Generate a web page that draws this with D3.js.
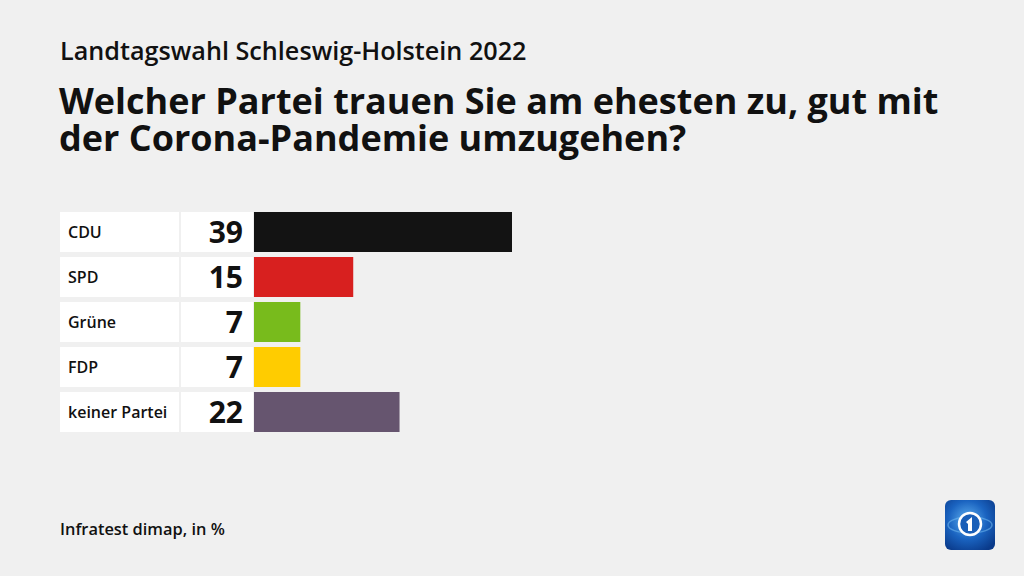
<!DOCTYPE html>
<html><head><meta charset="utf-8">
<script src="https://cdn.jsdelivr.net/npm/d3@7"></script>
<style>body{margin:0;background:#f0f0f0;} svg{display:block;font-family:"Open Sans",sans-serif;}</style>
</head><body>
<script>
const categories = ["CDU","SPD","Grüne","FDP","keiner Partei"];
const values = [39,15,7,7,22];
const colors = ["#131313","#d8201f","#78bb1c","#ffcc00","#66556f"];
const subtitle = "Landtagswahl Schleswig-Holstein 2022";
const titleLines = ["Welcher Partei trauen Sie am ehesten zu, gut mit","der Corona-Pandemie umzugehen?"];
const source = "Infratest dimap, in %";

const W=1024,H=576;
const svg=d3.select("body").append("svg").attr("width",W).attr("height",H);
svg.append("rect").attr("width",W).attr("height",H).attr("fill","#f0f0f0");

svg.append("text").attr("x",60).attr("y",60).attr("font-size",25.2).attr("font-weight",600).attr("fill","#111").text(subtitle);
const title=svg.append("text").attr("x",59).attr("y",114).attr("font-size",36).attr("font-weight",700).attr("fill","#111");
titleLines.forEach((t,i)=>title.append("tspan").attr("x",59).attr("dy",i?37:0).text(t));

const y=d3.scaleBand().domain(categories).range([212,432]).paddingInner(5/45).paddingOuter(0);
const x=d3.scaleLinear().domain([0,39]).range([254,512]);

const g=svg.append("g");
const rows=g.selectAll("g.row").data(categories).join("g");
rows.append("rect").attr("x",60).attr("y",d=>y(d)).attr("width",119).attr("height",y.bandwidth()).attr("fill","#fff");
rows.append("rect").attr("x",181).attr("y",d=>y(d)).attr("width",72).attr("height",y.bandwidth()).attr("fill","#fff");
rows.append("text").attr("x",68).attr("y",d=>y(d)+y.bandwidth()/2+6).attr("font-size",16).attr("font-weight",600).attr("fill","#111").text(d=>d);
rows.append("text").attr("x",243).attr("y",(d)=>y(d)+y.bandwidth()/2+11).attr("text-anchor","end").attr("font-size",30).attr("font-weight",700).attr("fill","#111").text((d,i)=>values[i]);
rows.append("rect").attr("x",x(0)).attr("y",d=>y(d)).attr("width",(d,i)=>x(values[i])-x(0)).attr("height",y.bandwidth()).attr("fill",(d,i)=>colors[i]);

svg.append("text").attr("x",60).attr("y",535).attr("font-size",16.4).attr("font-weight",600).attr("fill","#111").text(source);

// logo
const defs=svg.append("defs");
const rg=defs.append("radialGradient").attr("id","lg").attr("cx","45%").attr("cy","40%").attr("r","70%");
rg.append("stop").attr("offset","0%").attr("stop-color","#5fb0f0");
rg.append("stop").attr("offset","55%").attr("stop-color","#1a63c0");
rg.append("stop").attr("offset","100%").attr("stop-color","#0a3a8a");
const L=svg.append("g").attr("transform","translate(945,500)");
L.append("rect").attr("width",50).attr("height",50).attr("rx",6).attr("fill","url(#lg)");
L.append("ellipse").attr("cx",25).attr("cy",25).attr("rx",22).attr("ry",8).attr("fill","none").attr("stroke","#7cc4f5").attr("stroke-opacity",0.5).attr("stroke-width",1.5);
L.append("circle").attr("cx",25).attr("cy",24).attr("r",11).attr("fill","#1a5fb8").attr("stroke","#fff").attr("stroke-width",2.5);
L.append("path").attr("d","M21,22 L27,17 L27,31 L23,31 L23,24 Z").attr("fill","#fff");
</script>
</body></html>
